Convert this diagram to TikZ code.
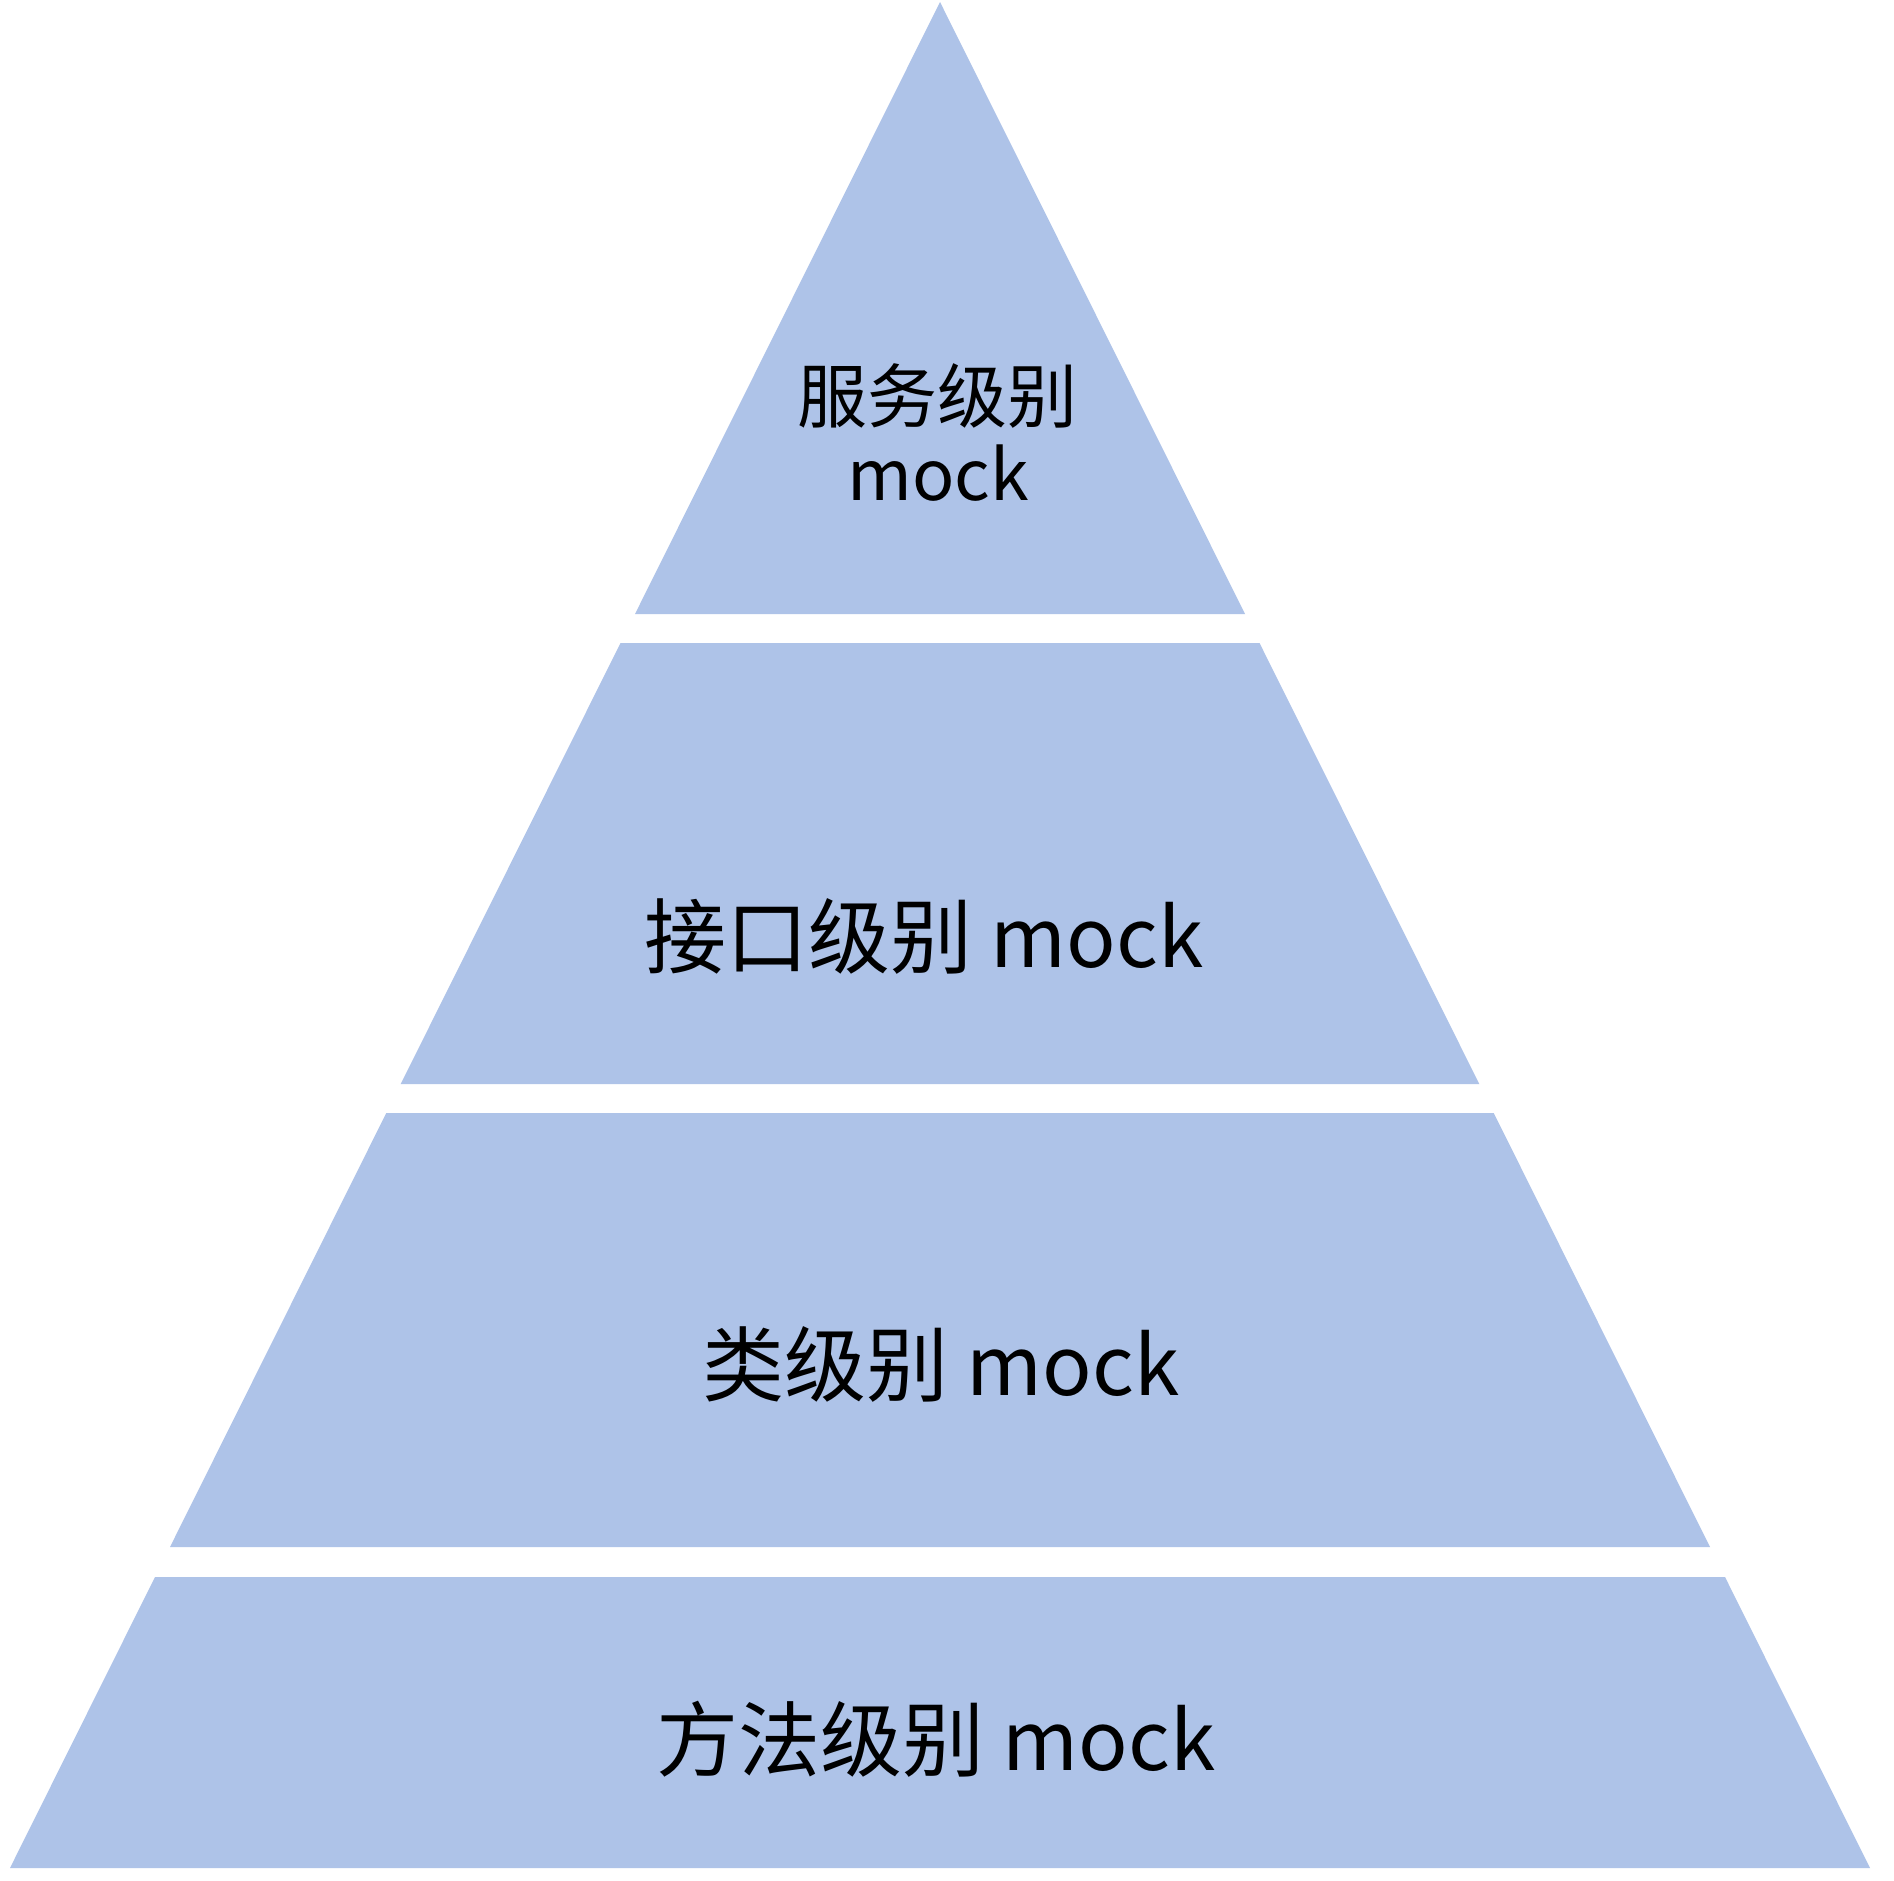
\documentclass[tikz,border=0pt]{standalone}
\usepackage{fontspec}
\setmainfont{Noto Sans CJK SC}
\definecolor{tierblue}{RGB}{174,195,232}
\tikzset{
  tier/.style={fill=tierblue, draw=none},
  lbl/.style={anchor=base, inner sep=0pt, text=black, font=\fontsize{82}{90}\selectfont},
  toplbl/.style={anchor=base, inner sep=0pt, text=black, font=\fontsize{70}{78}\selectfont}
}
\begin{document}
\begin{tikzpicture}[x=1pt, y=-1pt]
\useasboundingbox (0,0) rectangle (1894,1880);
\fill[white] (0,0) rectangle (1894,1880);
% tiers
\path[tier] (940,2) -- (1245,614) -- (635,614) -- cycle;
\path[tier] (620.5,643) -- (1259.5,643) -- (1479.3,1084) -- (400.7,1084) -- cycle;
\path[tier] (386.3,1113) -- (1493.7,1113) -- (1710,1547) -- (170,1547) -- cycle;
\path[tier] (155,1577) -- (1725,1577) -- (1870,1868) -- (10,1868) -- cycle;
% labels
\node[toplbl] (t1a) at (937,422) {服务级别};
\node[toplbl] (t1b) at (938,500) {mock};
\node[lbl] (t2) at (924,967) {接口级别 mock};
\node[lbl] (t3) at (941,1395) {类级别 mock};
\node[lbl] (t4) at (936,1770) {方法级别 mock};
\end{tikzpicture}
\end{document}
